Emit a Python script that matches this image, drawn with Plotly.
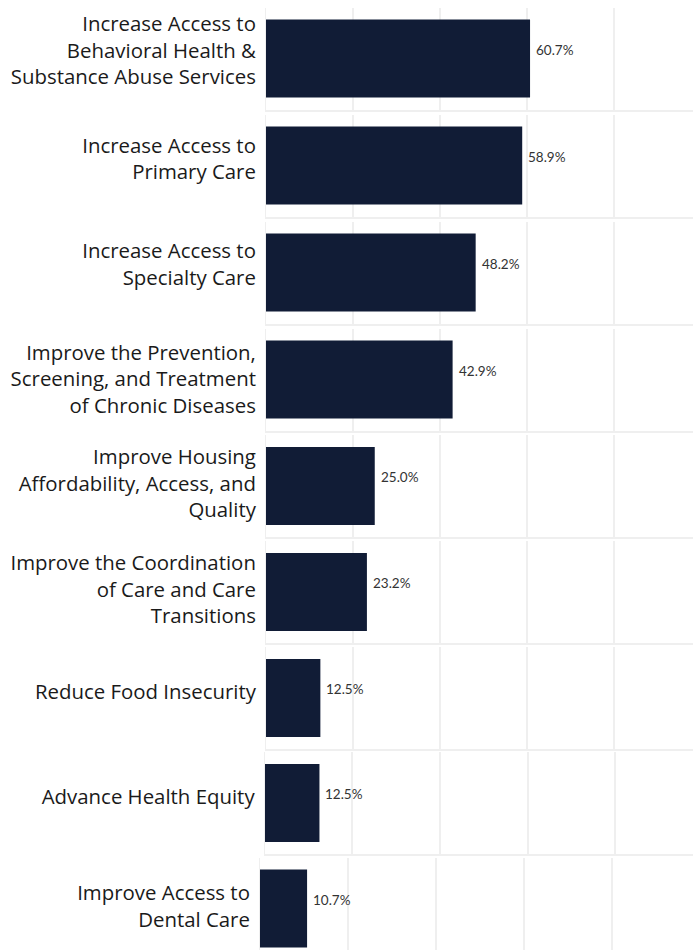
import plotly.graph_objects as go

categories = [
    "Increase Access to<br>Behavioral Health &<br>Substance Abuse Services",
    "Increase Access to<br>Primary Care",
    "Increase Access to<br>Specialty Care",
    "Improve the Prevention,<br>Screening, and Treatment<br>of Chronic Diseases",
    "Improve Housing<br>Affordability, Access, and<br>Quality",
    "Improve the Coordination<br>of Care and Care<br>Transitions",
    "Reduce Food Insecurity",
    "Advance Health Equity",
    "Improve Access to<br>Dental Care",
]
values = [60.7, 58.9, 48.2, 42.9, 25.0, 23.2, 12.5, 12.5, 10.7]
grid_ticks = [0, 20, 40, 60, 80, 100]

W, H = 693, 950
BAR = "#111c36"
GRID = "#efefef"

# layout (pixel geometry of each small panel)
centers = [58.5, 165.5, 272.5, 379.5, 486.0, 592.0, 698.0, 803.0, 908.5]
lefts = [266, 266, 266, 266, 266, 266, 266, 264.7, 260]
pxper = [4.35, 4.35, 4.35, 4.35, 4.35, 4.35, 4.35, 4.38, 4.40]
label_shift = [8, 6.5, 8, 0.5, 2.5, 2.5, 6, 6, 2]
half = 51

fig = go.Figure()
layout = dict(
    width=W, height=H, margin=dict(l=0, r=0, t=0, b=0),
    paper_bgcolor="white", plot_bgcolor="white", showlegend=False,
)
annotations = []
n = len(categories)
for i in range(n):
    sfx = "" if i == 0 else str(i + 1)
    top = centers[i] - half
    bot = min(centers[i] + half, H)
    ybot = 1 - bot / H
    ytop = 1 - top / H
    yr = [0.5 - (bot - top) / (2 * half), 0.5]
    R = (W - lefts[i]) / pxper[i]
    fig.add_trace(go.Bar(
        x=[values[i]], y=[0], orientation="h", width=0.765,
        marker=dict(color=BAR, line=dict(width=0)),
        xaxis="x" + sfx, yaxis="y" + sfx, hoverinfo="skip",
    ))
    layout["xaxis" + sfx] = dict(
        domain=[lefts[i] / W, 1], range=[0, R], anchor="y" + sfx,
        showgrid=True, gridcolor=GRID, gridwidth=2,
        tickvals=grid_ticks, showticklabels=False, ticks="",
        zeroline=False, showline=(i < n - 1), linecolor=GRID, linewidth=2,
        fixedrange=True,
    )
    layout["yaxis" + sfx] = dict(
        domain=[ybot, ytop], range=yr, anchor="x" + sfx,
        tickvals=[label_shift[i] / (2 * half)], ticktext=[categories[i]],
        ticks="outside", ticklen=5, tickcolor="rgba(0,0,0,0)",
        tickfont=dict(family="Open Sans", size=20.4, color="#1a1a1a"),
        showgrid=False, zeroline=False,
        showline=True, linecolor=GRID, linewidth=1, fixedrange=True,
    )
    annotations.append(dict(
        x=values[i], y=0, xref="x" + sfx, yref="y" + sfx,
        text=f"{values[i]:.1f}%", showarrow=False,
        xanchor="left", yanchor="middle", xshift=4, yshift=9,
        font=dict(family="Lato", size=13.5, color="#333333"),
    ))
layout["annotations"] = annotations
fig.update_layout(**layout)
fig.write_html(
    "out.html",
    config={"displayModeBar": False},
    post_script="document.body.style.margin='0';document.body.style.overflow='hidden';",
)
